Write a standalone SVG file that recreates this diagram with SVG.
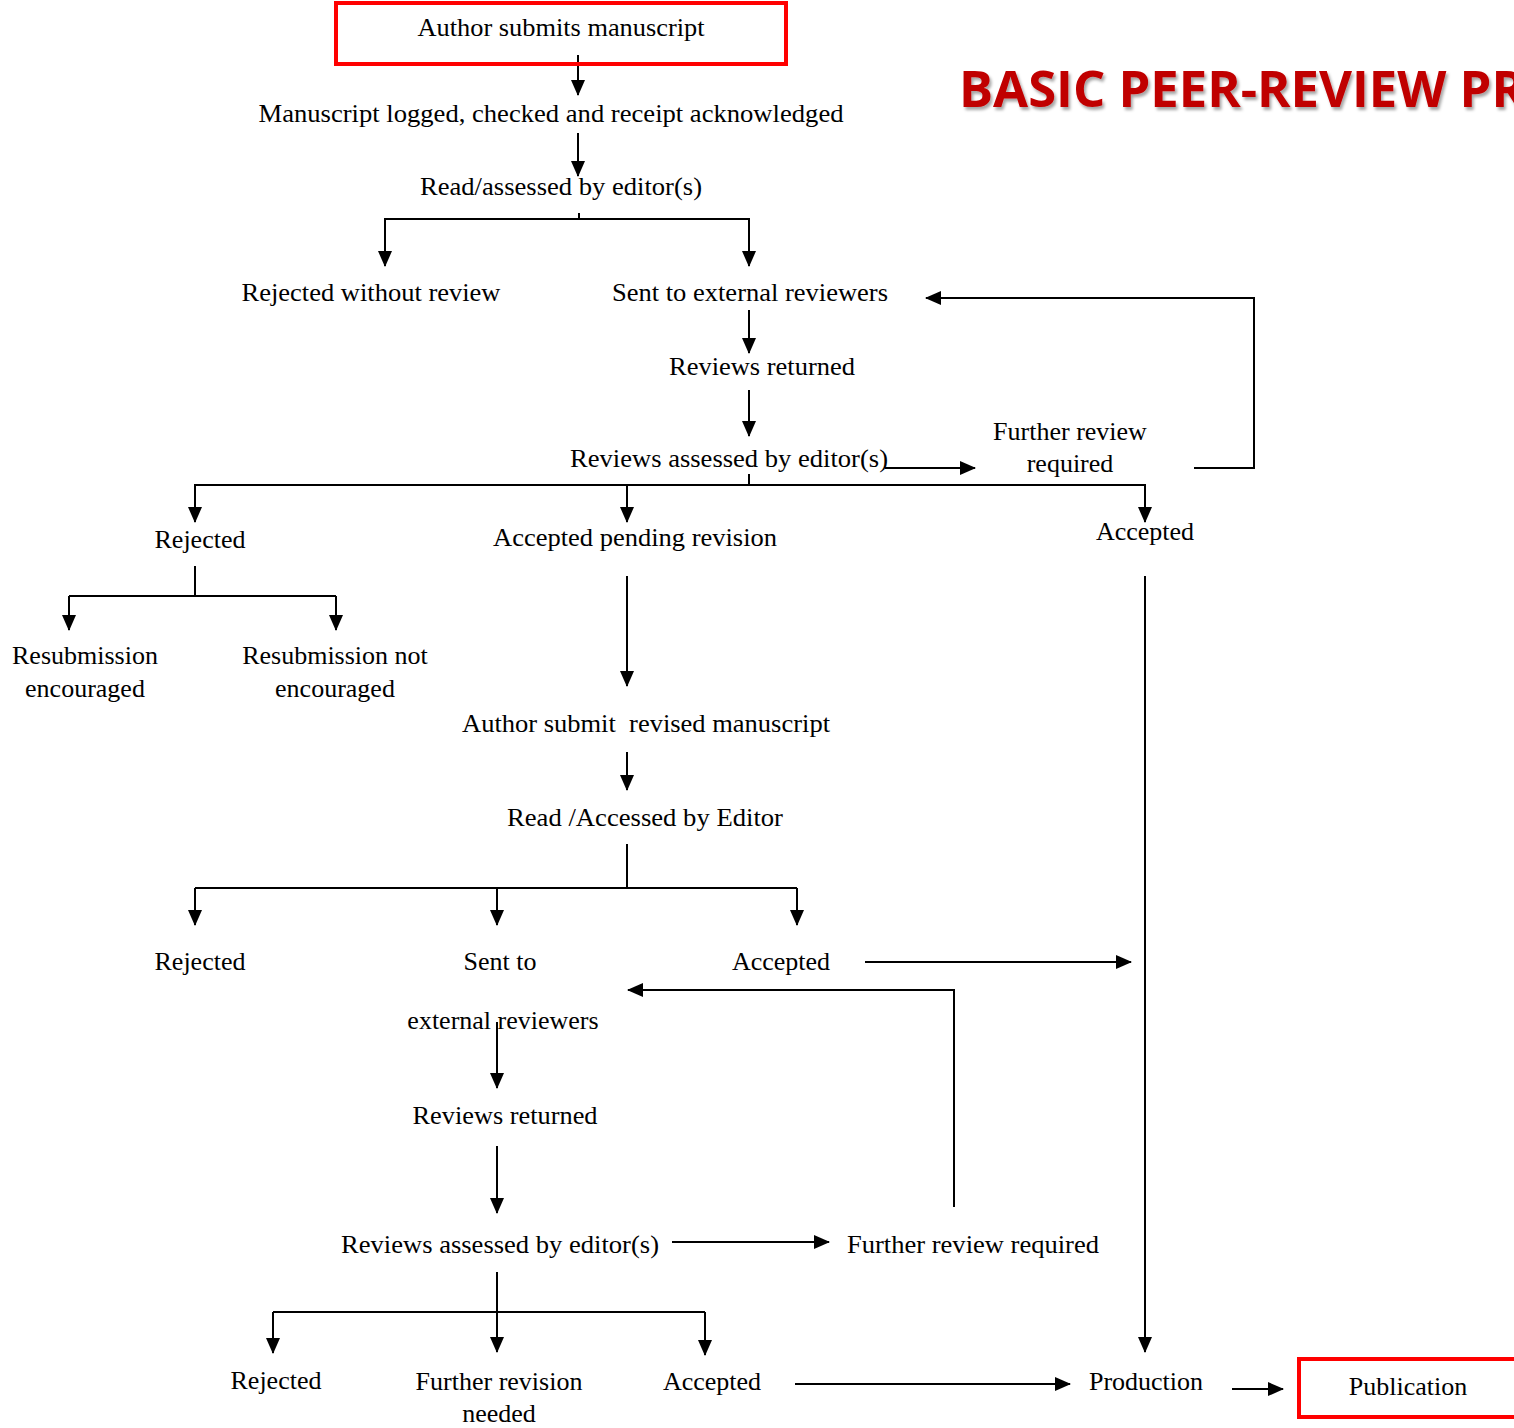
<svg xmlns="http://www.w3.org/2000/svg" width="1514" height="1428" viewBox="0 0 1514 1428">
<style>
text{font-family:"Liberation Serif","Times New Roman",serif;font-size:26px;fill:#000;text-anchor:middle}
.title{font-family:"Open Sans","Liberation Sans",sans-serif;font-weight:bold;font-size:50px;fill:#c00000;text-anchor:start}
.box{fill:none;stroke:#ff0000;stroke-width:4}
#connectors line,#connectors polyline{stroke:#000;stroke-width:2;fill:none}
</style>
<defs>
<marker id="ah" markerUnits="userSpaceOnUse" markerWidth="16" markerHeight="16" viewBox="0 0 16 14" refX="15" refY="7" orient="auto"><path d="M0,0 L16,7 L0,14 Z" fill="#000"/></marker>
<filter id="sh" x="-5%" y="-20%" width="110%" height="150%"><feDropShadow dx="2" dy="3" stdDeviation="1.5" flood-color="#000" flood-opacity="0.35"/></filter>
</defs>
<rect width="1514" height="1428" fill="#fff"/>
<g id="title"><text class="title" x="959" y="107" filter="url(#sh)" textLength="566" lengthAdjust="spacingAndGlyphs">BASIC PEER-REVIEW PR</text></g>
<g id="connectors">
<line x1="578" y1="55" x2="578" y2="95" marker-end="url(#ah)"/>
<line x1="578" y1="133" x2="578" y2="176" marker-end="url(#ah)"/>
<line x1="579" y1="213" x2="579" y2="219"/>
<polyline points="385,266 385,219 749,219 749,266"/>
<line x1="385" y1="240" x2="385" y2="266" marker-end="url(#ah)"/>
<line x1="749" y1="240" x2="749" y2="266" marker-end="url(#ah)"/>
<polyline points="1194,468 1254,468 1254,298 940,298"/>
<line x1="1000" y1="298" x2="926" y2="298" marker-end="url(#ah)"/>
<line x1="749" y1="310" x2="749" y2="353" marker-end="url(#ah)"/>
<line x1="749" y1="390" x2="749" y2="436" marker-end="url(#ah)"/>
<line x1="885" y1="468" x2="975" y2="468" marker-end="url(#ah)"/>
<line x1="749" y1="474" x2="749" y2="485"/>
<polyline points="195,500 195,485 1145,485 1145,500"/>
<line x1="195" y1="485" x2="195" y2="522" marker-end="url(#ah)"/>
<line x1="627" y1="485" x2="627" y2="522" marker-end="url(#ah)"/>
<line x1="1145" y1="485" x2="1145" y2="522" marker-end="url(#ah)"/>
<line x1="195" y1="566" x2="195" y2="596"/>
<line x1="69" y1="596" x2="336" y2="596"/>
<line x1="69" y1="596" x2="69" y2="630" marker-end="url(#ah)"/>
<line x1="336" y1="596" x2="336" y2="630" marker-end="url(#ah)"/>
<line x1="627" y1="576" x2="627" y2="686" marker-end="url(#ah)"/>
<line x1="1145" y1="576" x2="1145" y2="1352" marker-end="url(#ah)"/>
<line x1="627" y1="752" x2="627" y2="790" marker-end="url(#ah)"/>
<line x1="627" y1="844" x2="627" y2="888"/>
<line x1="195" y1="888" x2="797" y2="888"/>
<line x1="195" y1="888" x2="195" y2="925" marker-end="url(#ah)"/>
<line x1="497" y1="888" x2="497" y2="925" marker-end="url(#ah)"/>
<line x1="797" y1="888" x2="797" y2="925" marker-end="url(#ah)"/>
<line x1="865" y1="962" x2="1131" y2="962" marker-end="url(#ah)"/>
<polyline points="954,1207 954,990 680,990"/>
<line x1="700" y1="990" x2="628" y2="990" marker-end="url(#ah)"/>
<line x1="497" y1="1022" x2="497" y2="1088" marker-end="url(#ah)"/>
<line x1="497" y1="1146" x2="497" y2="1213" marker-end="url(#ah)"/>
<line x1="672" y1="1242" x2="829" y2="1242" marker-end="url(#ah)"/>
<line x1="497" y1="1272" x2="497" y2="1352" marker-end="url(#ah)"/>
<line x1="273" y1="1312" x2="705" y2="1312"/>
<line x1="273" y1="1312" x2="273" y2="1353" marker-end="url(#ah)"/>
<line x1="705" y1="1312" x2="705" y2="1355" marker-end="url(#ah)"/>
<line x1="795" y1="1384" x2="1070" y2="1384" marker-end="url(#ah)"/>
<line x1="1232" y1="1389" x2="1283" y2="1389" marker-end="url(#ah)"/>
</g>
<g id="n-submit"><rect class="box" x="336" y="3" width="450" height="61"/><text x="561" y="36" textLength="287" lengthAdjust="spacingAndGlyphs">Author submits manuscript</text></g>
<g id="n-logged"><text x="551" y="122" textLength="585" lengthAdjust="spacingAndGlyphs">Manuscript logged, checked and receipt acknowledged</text></g>
<g id="n-read1"><text x="561" y="195" textLength="282" lengthAdjust="spacingAndGlyphs">Read/assessed by editor(s)</text></g>
<g id="n-rejwo"><text x="371" y="301" textLength="259" lengthAdjust="spacingAndGlyphs">Rejected without review</text></g>
<g id="n-sent1"><text x="750" y="301" textLength="276" lengthAdjust="spacingAndGlyphs">Sent to external reviewers</text></g>
<g id="n-ret1"><text x="762" y="375" textLength="186" lengthAdjust="spacingAndGlyphs">Reviews returned</text></g>
<g id="n-assess1"><text x="729" y="467" textLength="318" lengthAdjust="spacingAndGlyphs">Reviews assessed by editor(s)</text></g>
<g id="n-further1"><text x="1070" y="440">Further review</text><text x="1070" y="472">required</text></g>
<g id="n-rej1"><text x="200" y="548">Rejected</text></g>
<g id="n-pending"><text x="635" y="546" textLength="284" lengthAdjust="spacingAndGlyphs">Accepted pending revision</text></g>
<g id="n-acc1"><text x="1145" y="540">Accepted</text></g>
<g id="n-resub"><text x="85" y="664">Resubmission</text><text x="85" y="697">encouraged</text></g>
<g id="n-resubnot"><text x="335" y="664">Resubmission not</text><text x="335" y="697">encouraged</text></g>
<g id="n-revised"><text x="646" y="732" textLength="368" lengthAdjust="spacingAndGlyphs" xml:space="preserve">Author submit  revised manuscript</text></g>
<g id="n-read2"><text x="645" y="826" textLength="276" lengthAdjust="spacingAndGlyphs">Read /Accessed by Editor</text></g>
<g id="n-rej2"><text x="200" y="970">Rejected</text></g>
<g id="n-sent2"><text x="500" y="970">Sent to</text><text x="503" y="1029">external reviewers</text></g>
<g id="n-acc2"><text x="781" y="970">Accepted</text></g>
<g id="n-ret2"><text x="505" y="1124" textLength="185" lengthAdjust="spacingAndGlyphs">Reviews returned</text></g>
<g id="n-assess2"><text x="500" y="1253" textLength="318" lengthAdjust="spacingAndGlyphs">Reviews assessed by editor(s)</text></g>
<g id="n-further2"><text x="973" y="1253" textLength="252" lengthAdjust="spacingAndGlyphs">Further review required</text></g>
<g id="n-rej3"><text x="276" y="1389">Rejected</text></g>
<g id="n-furtherrev"><text x="499" y="1390">Further revision</text><text x="499" y="1422">needed</text></g>
<g id="n-acc3"><text x="712" y="1390">Accepted</text></g>
<g id="n-production"><text x="1146" y="1390">Production</text></g>
<g id="n-publication"><rect class="box" x="1299" y="1359" width="230" height="58"/><text x="1408" y="1395">Publication</text></g>
</svg>
